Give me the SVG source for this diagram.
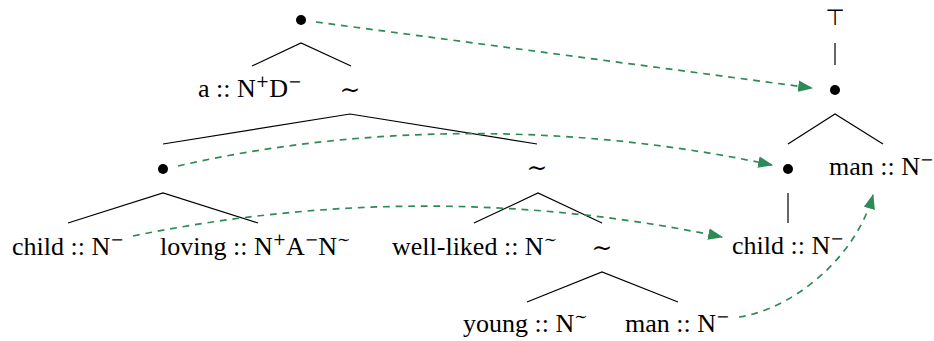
<svg xmlns="http://www.w3.org/2000/svg" width="934" height="341" viewBox="0 0 934 341">
<style>
  text { font-family: "Liberation Serif", "DejaVu Serif", serif; font-size: 26px; fill: #000; }
  .sup { font-family: "DejaVu Serif", "Liberation Serif", serif; font-size: 16px; }
  .tl { font-family: "DejaVu Serif", "Liberation Serif", serif; font-size: 25px; }
  .tree { stroke: #000; stroke-width: 1.2; fill: none; }
  .arr { stroke: #2e8b57; stroke-width: 1.7; fill: none; stroke-dasharray: 6.8 5.8; marker-end: url(#ah); }
  .dot { fill: #000; }
</style>
<defs>
  <marker id="ah" markerUnits="userSpaceOnUse" markerWidth="15" markerHeight="12" viewBox="0 0 13 10" refX="12" refY="5" orient="auto">
    <path d="M0,0 L13,5 L0,10 z" fill="#2e8b57"/>
  </marker>
</defs>

<g id="edges-tree">
  <path class="tree" d="M252,66 L301,43 L351,66"/>
  <path class="tree" d="M163,144 L350,114 L537,144"/>
  <path class="tree" d="M68,223 L163,193 L258,223"/>
  <path class="tree" d="M474,223 L538,193 L602,223"/>
  <path class="tree" d="M527,302 L602,272 L678,302"/>
  <path class="tree" d="M835,43 L835,65"/>
  <path class="tree" d="M788,144 L835,114 L883,144"/>
  <path class="tree" d="M788,193 L788,223"/>
</g>

<g id="n-root"><circle class="dot" cx="301" cy="20" r="5"/></g>
<g id="n-a"><text x="198" y="97">a :: N<tspan class="sup" dy="-10">+</tspan><tspan dy="10">D</tspan><tspan class="sup" dy="-10">−</tspan></text></g>
<g id="n-tilde1"><text class="tl" x="350" y="97.5" text-anchor="middle">∼</text></g>
<g id="n-dot2"><circle class="dot" cx="163" cy="169" r="5"/></g>
<g id="n-tilde2"><text class="tl" x="537" y="175.5" text-anchor="middle">∼</text></g>
<g id="n-child1"><text x="12" y="255">child :: N<tspan class="sup" dy="-10">−</tspan></text></g>
<g id="n-loving"><text x="160" y="255">loving :: N<tspan class="sup" dy="-10">+</tspan><tspan dy="10">A</tspan><tspan class="sup" dy="-10">−</tspan><tspan dy="10">N</tspan><tspan class="sup" dy="-10">∼</tspan></text></g>
<g id="n-wellliked"><text x="392" y="255">well-liked :: N<tspan class="sup" dy="-10">∼</tspan></text></g>
<g id="n-tilde3"><text class="tl" x="602" y="255.5" text-anchor="middle">∼</text></g>
<g id="n-young"><text x="463" y="332">young :: N<tspan class="sup" dy="-10">∼</tspan></text></g>
<g id="n-man1"><text x="625" y="332">man :: N<tspan class="sup" dy="-10">−</tspan></text></g>
<g id="n-top"><text x="835" y="25" text-anchor="middle" style="font-family: 'DejaVu Sans', sans-serif; font-size: 22px;">⊤</text></g>
<g id="n-dot3"><circle class="dot" cx="835" cy="90" r="5"/></g>
<g id="n-dot4"><circle class="dot" cx="788" cy="169" r="5"/></g>
<g id="n-man2"><text x="829" y="175">man :: N<tspan class="sup" dy="-10">−</tspan></text></g>
<g id="n-child2"><text x="732" y="254">child :: N<tspan class="sup" dy="-10">−</tspan></text></g>

<g id="connectors">
  <path class="arr" d="M316,22 L812,88"/>
  <path class="arr" d="M178,166 C370,122 580,124 772,165"/>
  <path class="arr" d="M133,236 C329,196 526,196 722,237"/>
  <path class="arr" d="M739,317 C790,310 855,260 873,195"/>
</g>
</svg>
